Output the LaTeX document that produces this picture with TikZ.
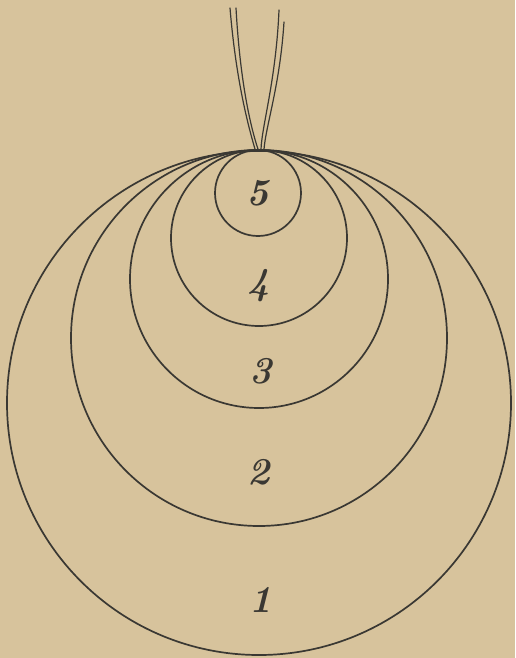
\documentclass[tikz,border=0pt]{standalone}
\usepackage{tikz}
\usetikzlibrary{positioning}
\definecolor{paper}{HTML}{D7C39C}
\definecolor{ink}{HTML}{3A3833}
\tikzstyle{ring} = [
  circle, draw=ink, line width=1.7pt, inner sep=0pt
]

\begin{document}
\begin{tikzpicture}[
  x=1pt, y=-1pt,
  digit/.style={font=\fontsize{38}{38}\selectfont\bfseries\itshape, text=ink, inner sep=0pt},
  thread/.style={draw=ink, line width=1.2pt, line cap=round},
]
  \fill[paper] (0,0) rectangle (515,658);
  \useasboundingbox (0,0) rectangle (515,658);

  % nested spheres, all touching at the top
  \node[ring, minimum size=504pt] (s1) at (259,403) {};
  \node[ring, minimum size=376pt] (s2) at (259,338) {};
  \node[ring, minimum size=258pt] (s3) at (259,279) {};
  \node[ring, minimum size=176pt] (s4) at (259,238) {};
  \node[ring, minimum size=86pt]  (s5) at (258,193) {};

  \node[digit] (n5) at (258,193) {5};
  \node[digit] (n4) at (259,286) {4};
  \node[digit] (n3) at (261,371) {3};
  \node[digit] (n2) at (259,472) {2};
  \node[digit] (n1) at (261,600) {1};

  % suspension threads
  \coordinate (hookL) at (s5.north);
  \coordinate (hookR) at ([xshift=3pt]s5.north);
  \coordinate (t1) at (230,8);
  \coordinate (t2) at (236,8);
  \coordinate (t3) at (279,10);
  \coordinate (t4) at (284,22);
  \path[thread] (t1) .. controls (236,80) and (248,125) .. ([xshift=-3pt]hookL);
  \path[thread] (t2) .. controls (240,80) and (250,125) .. (hookL);
  \path[thread] (t3) .. controls (276,80) and (262,125) .. (hookR);
  \path[thread] (t4) .. controls (280,85) and (266,125) .. ([xshift=3pt]hookR);
\end{tikzpicture}
\end{document}
